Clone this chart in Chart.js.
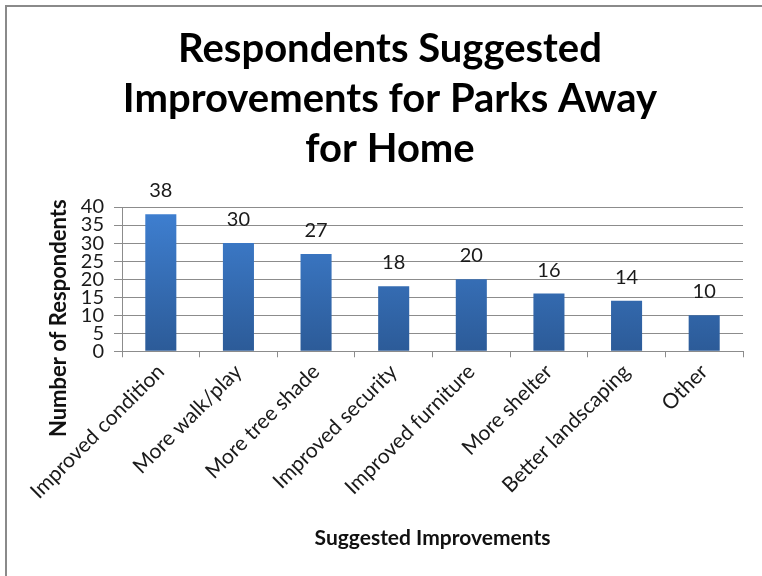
<!DOCTYPE html>
<html>
<head>
<meta charset="utf-8">
<script src="https://cdn.jsdelivr.net/npm/chart.js@4.4.1/dist/chart.umd.min.js"></script>
<style>
  html, body { margin: 0; padding: 0; background: #fff; overflow: hidden; }
  #frame {
    position: absolute; left: 5px; top: 5px;
    width: 770px; height: 575px;
    border-top: 2px solid #8a8a8a; border-left: 2px solid #8a8a8a;
  }
  #chart-box { position: relative; width: 766px; height: 568px; }
</style>
</head>
<body>
<div id="frame"><div id="chart-box"><canvas id="chart"></canvas></div></div>
<script>
const categories = ['Improved condition', 'More walk/play', 'More tree shade', 'Improved security',
    'Improved furniture', 'More shelter', 'Better landscaping', 'Other'];
const respondents = [38, 30, 27, 18, 20, 16, 14, 10];
const titleLines = ['Respondents Suggested', 'Improvements for Parks Away', 'for Home'];
const yAxisTitle = 'Number of Respondents';
const xAxisTitle = 'Suggested Improvements';
const yMax = 40;
const yStep = 5;

const FONT = 'Lato, "Open Sans", sans-serif';

// numbers above each bar
const valueLabels = {
    id: 'valueLabels',
    afterDatasetsDraw(chart) {
        const ctx = chart.ctx;
        const meta = chart.getDatasetMeta(0);
        ctx.save();
        ctx.font = '20px ' + FONT;
        ctx.fillStyle = '#1a1a1a';
        ctx.textAlign = 'center';
        ctx.textBaseline = 'alphabetic';
        meta.data.forEach((bar, i) => ctx.fillText(String(respondents[i]), bar.x, bar.y - 17));
        ctx.restore();
    }
};

// y title sits lower than the plot centre, so it is drawn by hand
const sideTitle = {
    id: 'sideTitle',
    afterDraw(chart) {
        const ctx = chart.ctx;
        const area = chart.chartArea;
        ctx.save();
        ctx.translate(area.left - 63, area.bottom - 33);
        ctx.rotate(-Math.PI / 2);
        ctx.font = 'bold 22px ' + FONT;
        ctx.fillStyle = '#111';
        ctx.textAlign = 'center';
        ctx.textBaseline = 'middle';
        ctx.fillText(yAxisTitle, 0, 0);
        ctx.restore();
    }
};

function barGradient(context) {
    const area = context.chart.chartArea;
    if (!area) return '#3a78c6';
    const g = context.chart.ctx.createLinearGradient(0, area.top, 0, area.bottom);
    g.addColorStop(0, '#3f80d2');
    g.addColorStop(1, '#2c5b98');
    return g;
}

new Chart(document.getElementById('chart'), {
    type: 'bar',
    data: {
        labels: categories,
        datasets: [{
            data: respondents,
            backgroundColor: barGradient,
            borderWidth: 0,
            barPercentage: 0.4,
            categoryPercentage: 1
        }]
    },
    plugins: [valueLabels, sideTitle],
    options: {
        responsive: true,
        maintainAspectRatio: false,
        animation: false,
        layout: { padding: { left: 30, right: 30, top: 0, bottom: 24 } },
        plugins: {
            legend: { display: false },
            tooltip: { enabled: false },
            title: {
                display: true,
                text: titleLines,
                color: '#000',
                font: { family: FONT, size: 40, weight: 'bold', lineHeight: 1.25 },
                padding: { top: 17, bottom: 33 }
            }
        },
        scales: {
            x: {
                grid: { display: true, drawOnChartArea: false, drawTicks: true, tickLength: 6, color: '#8c8c8c' },
                border: { color: '#8c8c8c' },
                ticks: {
                    color: '#1a1a1a',
                    font: { family: FONT, size: 21 },
                    minRotation: 45, maxRotation: 45,
                    autoSkip: false,
                    padding: 2
                },
                title: {
                    display: true,
                    text: xAxisTitle,
                    color: '#111',
                    font: { family: FONT, size: 21, weight: 'bold' },
                    padding: { top: 20, bottom: 0 }
                }
            },
            y: {
                min: 0, max: yMax,
                afterFit(scale) { scale.width = 85; },
                grid: { color: '#8c8c8c', tickLength: 8 },
                border: { color: '#8c8c8c' },
                ticks: {
                    stepSize: yStep,
                    autoSkip: false,
                    color: '#1a1a1a',
                    font: { family: FONT, size: 20 },
                    padding: 10
                }
            }
        }
    }
});
</script>
</body>
</html>
